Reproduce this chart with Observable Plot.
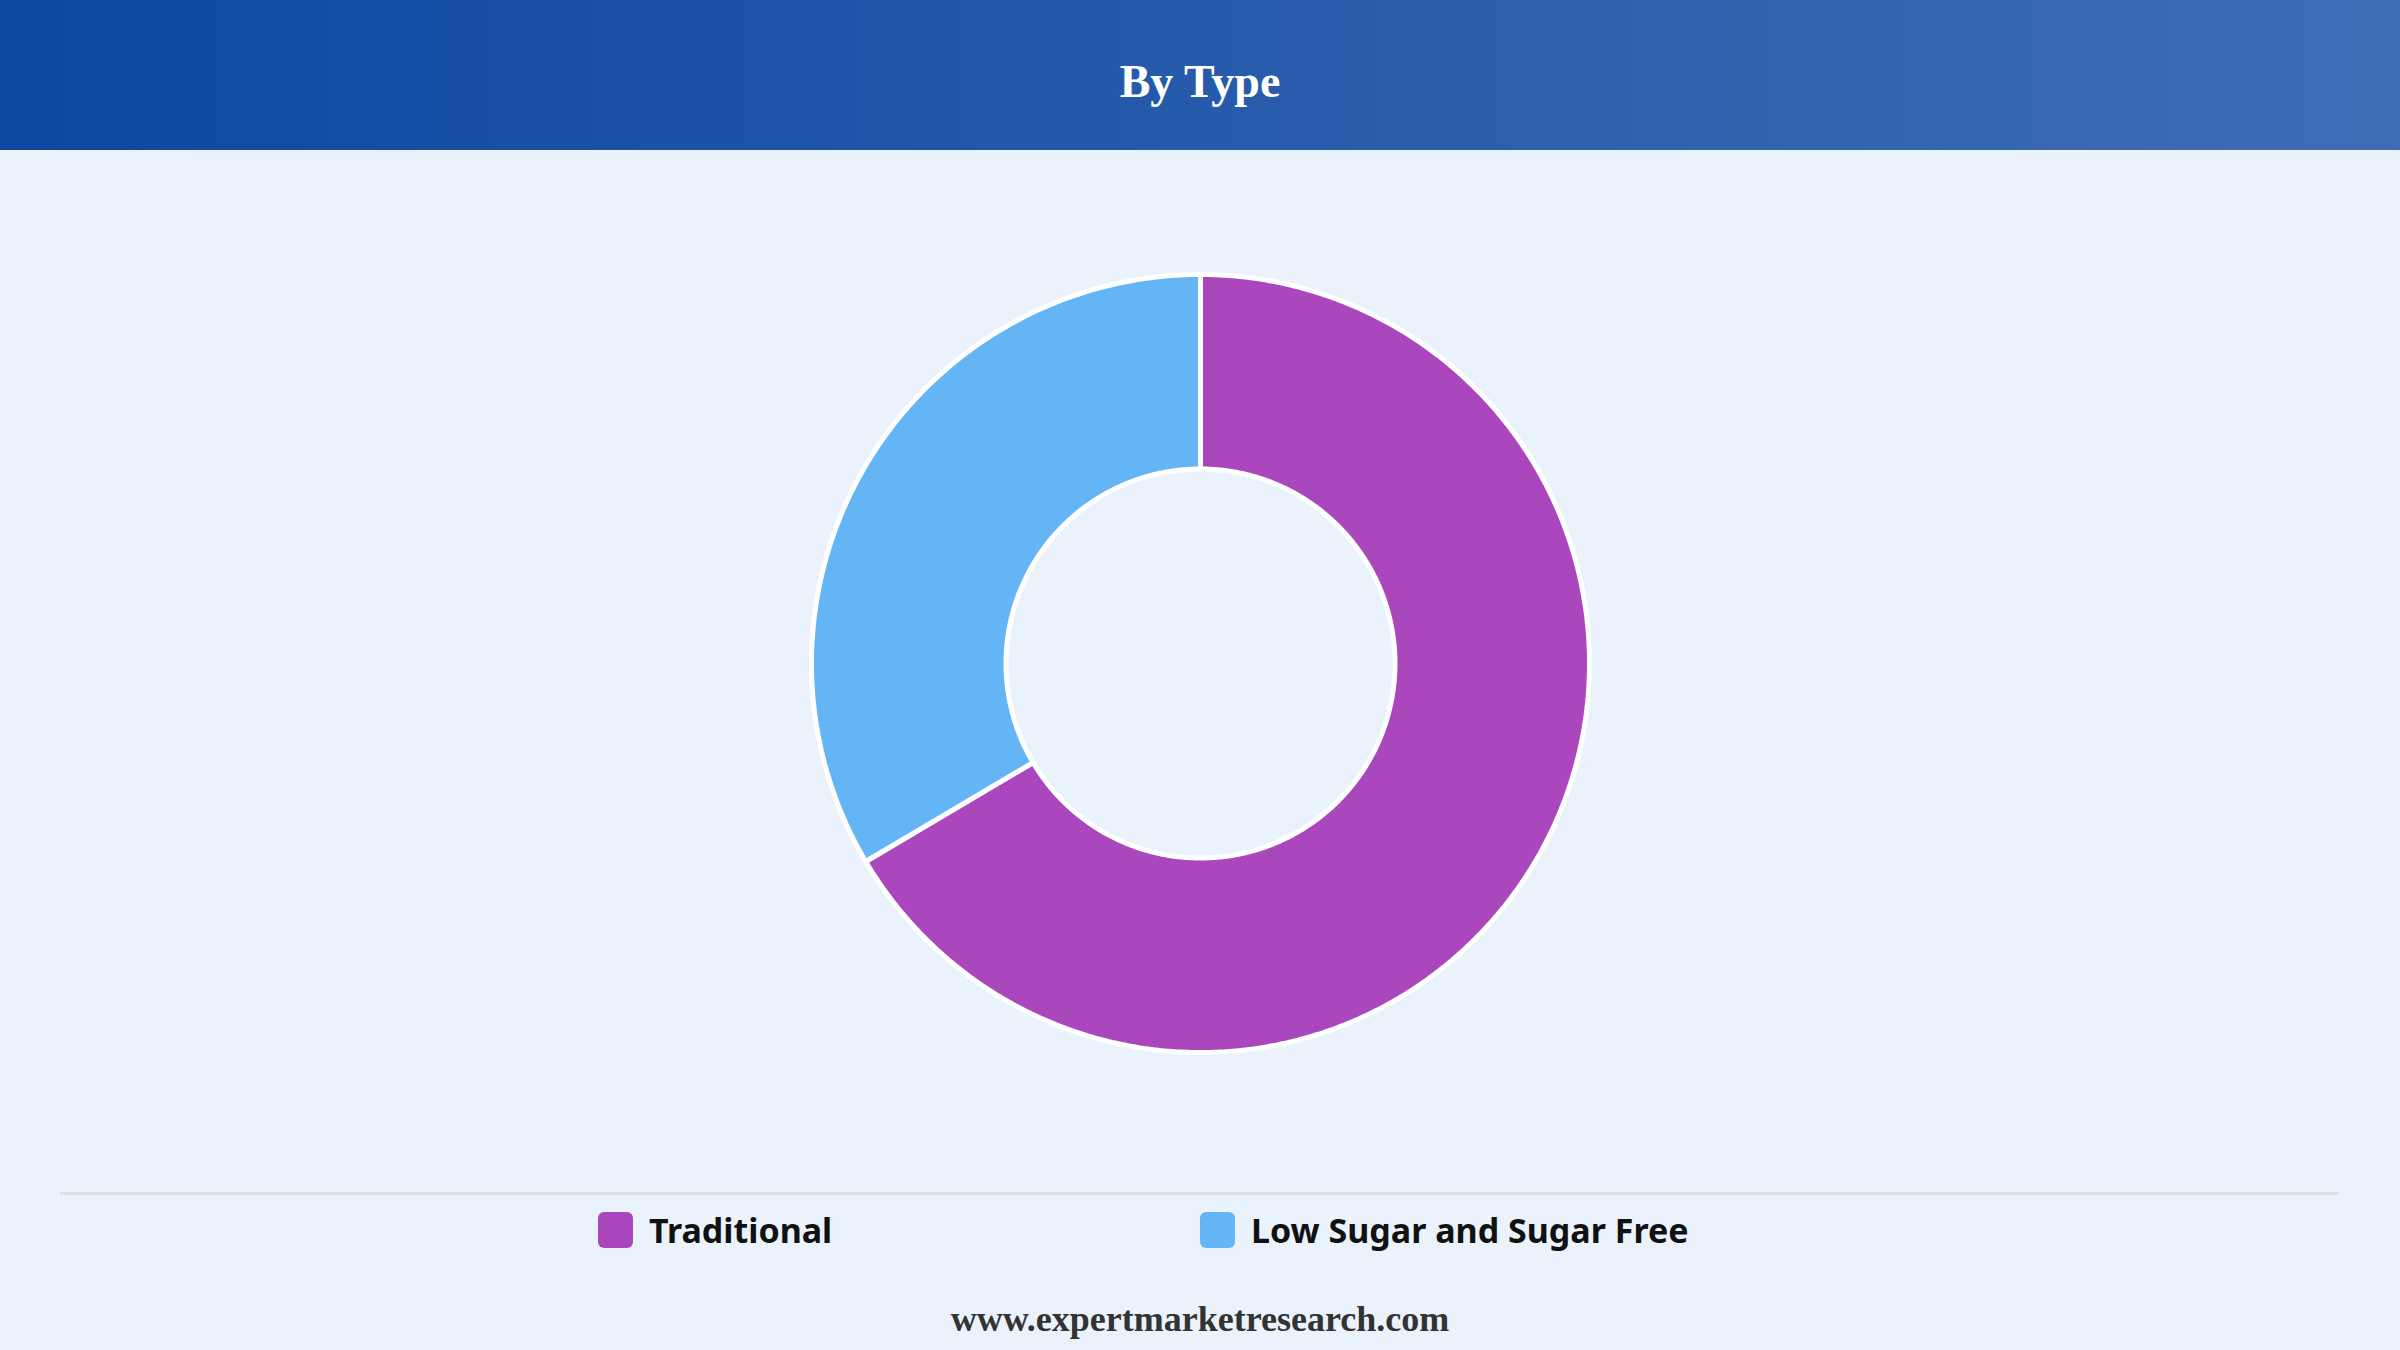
<!DOCTYPE html>
<html>
<head>
<meta charset="utf-8">
<script src="https://cdn.jsdelivr.net/npm/d3@7"></script>
<script src="https://cdn.jsdelivr.net/npm/@observablehq/plot@0.6"></script>
<style>
  html, body { margin: 0; padding: 0; }
  body { width: 2400px; height: 1350px; background: #eaf2fc; position: relative; overflow: hidden; }
  #header { position: absolute; left: 0; top: 0; width: 2400px; height: 150px;
    background: linear-gradient(to right, #0e47a1, #3e6db4); }
  #title { position: absolute; left: 0; width: 2400px; top: 54px; text-align: center;
    font-family: "Liberation Serif", "DejaVu Serif", serif; font-weight: bold; font-size: 46px; color: #fff; line-height: 56px; }
  #chart { position: absolute; left: 0; top: 150px; }
  #rule { position: absolute; left: 60px; width: 2279px; top: 1192px; height: 3px; background: #dcdfe4; }
  .item { position: absolute; top: 1212px; height: 36px; display: flex; align-items: center;
    font-family: "Noto Sans", sans-serif; font-weight: bold; font-size: 34px; color: #111; }
  .sw { width: 35px; height: 36px; border-radius: 6px; margin-right: 16px; }
  #footer { position: absolute; left: 0; width: 2400px; top: 1299px; text-align: center;
    font-family: "Liberation Serif", serif; font-weight: bold; font-size: 36px; color: #333; line-height: 40px; }
</style>
</head>
<body>
<div id="header"></div>
<div id="title">By Type</div>
<div id="chart"></div>
<div id="rule"></div>
<div id="legend"></div>
<div id="footer">www.expertmarketresearch.com</div>
<script>
const categories = ["Traditional", "Low Sugar and Sugar Free"];
const shares = [66.5, 33.5];
const colors = ["#ab47bc", "#64b5f6"];

const W = 2400, H = 1030;
const R = 389;            // outer radius, px
const innerRatio = 0.5;   // inner / outer
const cx = 1200, cy = 513;

// build slice polygons from data via d3.pie
const pie = d3.pie().sort(null).value(d => d.share);
const rows = categories.map((c, i) => ({type: c, share: shares[i]}));
const arcs = pie(rows);
const pts = [];
for (const a of arcs) {
  const n = Math.max(8, Math.ceil((a.endAngle - a.startAngle) * 120));
  for (let k = 0; k <= n; k++) {
    const t = a.startAngle + (a.endAngle - a.startAngle) * k / n;
    pts.push({type: a.data.type, x: Math.sin(t), y: Math.cos(t)});
  }
  for (let k = n; k >= 0; k--) {
    const t = a.startAngle + (a.endAngle - a.startAngle) * k / n;
    pts.push({type: a.data.type, x: innerRatio * Math.sin(t), y: innerRatio * Math.cos(t)});
  }
}

const chart = Plot.plot({
  width: W, height: H,
  margin: 0,
  style: {background: "transparent", overflow: "visible"},
  x: {domain: [-cx / R, (W - cx) / R], axis: null},
  y: {domain: [-(H - cy) / R, cy / R], axis: null},
  color: {domain: categories, range: colors},
  marks: [
    Plot.line(pts, {x: "x", y: "y", z: "type", fill: "type", stroke: "white", strokeWidth: 5,
      curve: "linear-closed", strokeLinejoin: "miter"})
  ]
});
document.getElementById("chart").appendChild(chart);

const legend = document.getElementById("legend");
const lx = [598, 1200];
categories.forEach((c, i) => {
  const it = document.createElement("div");
  it.className = "item";
  it.style.left = lx[i] + "px";
  it.innerHTML = `<div class="sw" style="background:${colors[i]}"></div><span>${c}</span>`;
  legend.appendChild(it);
});
</script>
</body>
</html>
